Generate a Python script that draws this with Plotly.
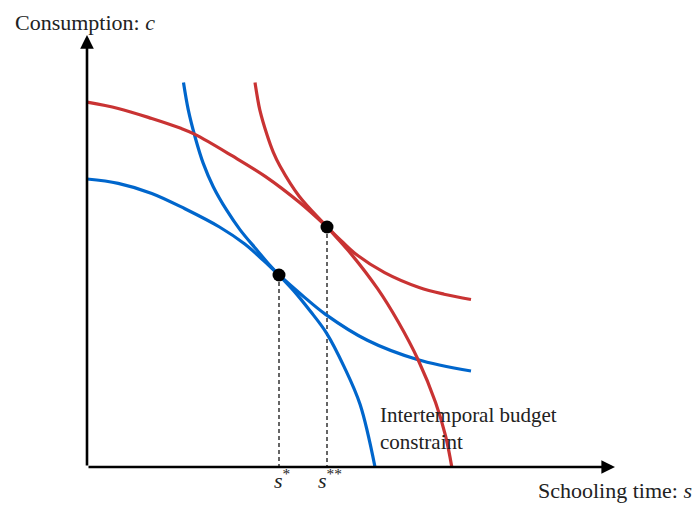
import plotly.graph_objects as go

# --- data (schooling time s on x, consumption c on y) ---
# intertemporal budget constraints
budget_lo_s = [2.01, 2.11, 2.25, 2.42, 2.63, 2.91, 3.19, 3.53, 3.81, 4.00, 4.30, 4.65, 4.99, 5.36, 5.69, 6.00]
budget_lo_c = [8.01, 7.44, 6.88, 6.33, 5.84, 5.35, 4.94, 4.53, 4.20, 4.00, 3.68, 3.25, 2.79, 2.08, 1.30, 0.00]
budget_hi_s = [3.50, 3.55, 3.60, 3.75, 3.88, 4.02, 4.42, 5.00, 5.51, 6.05, 6.48, 6.90, 7.26, 7.47, 7.60]
budget_hi_c = [8.01, 7.70, 7.44, 6.92, 6.56, 6.27, 5.64, 5.00, 4.43, 3.72, 3.03, 2.23, 1.35, 0.65, 0.00]

# indifference curves
indiff_lo_s = [0.00, 0.65, 1.35, 2.04, 2.76, 3.28, 3.68, 4.00, 4.48, 4.97, 5.84, 6.88, 8.00]
indiff_lo_c = [6.00, 5.91, 5.70, 5.38, 5.00, 4.65, 4.30, 4.00, 3.58, 3.18, 2.64, 2.24, 2.00]
indiff_hi_s = [0.00, 0.65, 1.35, 1.94, 2.25, 3.03, 3.72, 4.43, 5.00, 5.30, 5.62, 6.20, 6.92, 7.44, 8.00]
indiff_hi_c = [7.60, 7.47, 7.26, 7.06, 6.93, 6.48, 6.05, 5.51, 5.00, 4.71, 4.42, 4.05, 3.74, 3.60, 3.49]

# optimal choices
opt_s = [4.0, 5.0]
opt_c = [4.0, 5.0]
opt_labels = ["<i>s</i><sup>*</sup>", "<i>s</i><sup>**</sup>"]

# axis extents
s_max = 11.0
c_max = 9.0

BLUE = "#0066CC"
RED = "#C93333"
FONT = "Liberation Serif"
TEXT = "#222222"

fig = go.Figure()

# dashed drop lines from the optima to the s-axis
drop_x, drop_y = [], []
for s, c in zip(opt_s, opt_c):
    drop_x += [s, s, None]
    drop_y += [c, 0, None]
fig.add_trace(go.Scatter(x=drop_x, y=drop_y, mode="lines",
                         line=dict(color="#333333", width=1.5, dash="4px,3px"),
                         hoverinfo="skip"))

curves = [
    (indiff_lo_s, indiff_lo_c, BLUE),
    (budget_lo_s, budget_lo_c, BLUE),
    (indiff_hi_s, indiff_hi_c, RED),
    (budget_hi_s, budget_hi_c, RED),
]
for xs, ys, col in curves:
    fig.add_trace(go.Scatter(x=xs, y=ys, mode="lines",
                             line=dict(color=col, width=3.2, shape="spline", smoothing=1.0),
                             hoverinfo="skip"))

fig.add_trace(go.Scatter(x=opt_s, y=opt_c, mode="markers",
                         marker=dict(color="black", size=13), hoverinfo="skip"))

annotations = []
# axes with arrowheads
annotations.append(dict(x=s_max, y=0, ax=0, ay=0, xref="x", yref="y", axref="x", ayref="y",
                        showarrow=True, arrowhead=2, arrowsize=1.05, arrowwidth=2.6,
                        arrowcolor="black", text=""))
annotations.append(dict(x=0, y=c_max, ax=0, ay=0, xref="x", yref="y", axref="x", ayref="y",
                        showarrow=True, arrowhead=2, arrowsize=1.05, arrowwidth=2.6,
                        arrowcolor="black", text=""))

# optimum labels under the s-axis
for s, lab in zip(opt_s, opt_labels):
    annotations.append(dict(x=s, y=-0.25, xref="x", yref="y", text=lab, showarrow=False,
                            xanchor="center", yanchor="middle", xshift=3,
                            font=dict(family=FONT, size=22, color=TEXT)))

annotations.append(dict(x=-1.54, y=9.27, xref="x", yref="y", text="Consumption: <i>c</i>",
                        showarrow=False, xanchor="left", yanchor="middle",
                        font=dict(family=FONT, size=22, color=TEXT)))
annotations.append(dict(x=12.65, y=-0.48, xref="x", yref="y", text="Schooling time: <i>s</i>",
                        showarrow=False, xanchor="right", yanchor="middle",
                        font=dict(family=FONT, size=22, color=TEXT)))
annotations.append(dict(x=6.06, y=0.80, xref="x", yref="y",
                        text="Intertemporal budget<br>constraint",
                        showarrow=False, xanchor="left", yanchor="middle", align="left",
                        font=dict(family=FONT, size=21, color=TEXT)))

fig.update_layout(
    width=699, height=506, autosize=False,
    margin=dict(l=0, r=0, t=0, b=0),
    paper_bgcolor="white", plot_bgcolor="white",
    showlegend=False,
    xaxis=dict(range=[-87 / 48, 612 / 48], visible=False, fixedrange=True),
    yaxis=dict(range=[-39 / 48, 467 / 48], visible=False, fixedrange=True),
    annotations=annotations,
)

fig.write_html("out.html")
